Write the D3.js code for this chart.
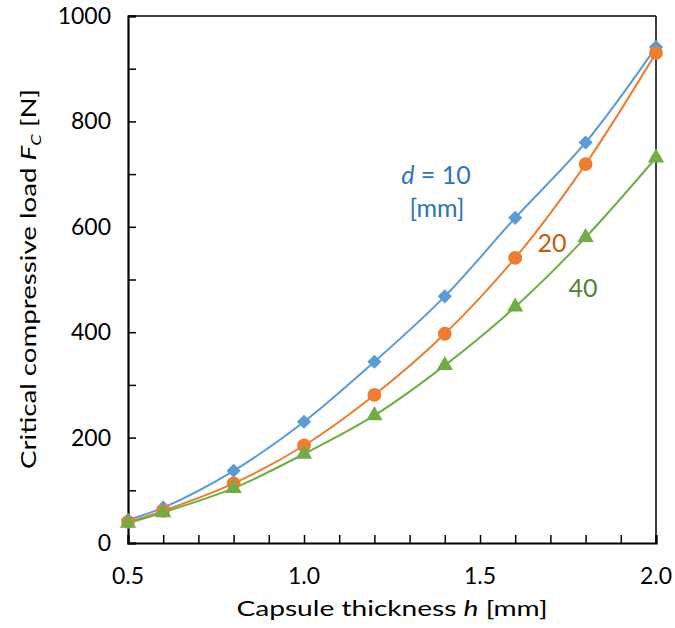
<!DOCTYPE html>
<html><head><meta charset="utf-8">
<script src="https://cdn.jsdelivr.net/npm/d3@7"></script>
<style>body{margin:0;background:#fff}svg{display:block}text{font-family:Lato,"Open Sans",sans-serif}</style>
</head><body><svg id="c" width="675" height="628"></svg>
<script>
const thickness = [0.5, 0.6, 0.8, 1.0, 1.2, 1.4, 1.6, 1.8, 2.0];
const loadD10 = [44, 67, 137, 230, 344, 468, 617, 760, 941];
const loadD20 = [40, 61, 113, 185, 281, 397, 541, 719, 930];
const loadD40 = [38, 58, 104, 169, 242, 337, 448, 580, 731];
const xTickLabels = [0.5, 1.0, 1.5, 2.0];
const yTickLabels = [0, 200, 400, 600, 800, 1000];

const svg = d3.select("#c");
const L = 128, R = 656, T = 16, B = 543;
const x = d3.scaleLinear().domain([0.5, 2.0]).range([L, R]);
const y = d3.scaleLinear().domain([0, 1000]).range([B, T]);

// frame
svg.append("line").attr("x1", L).attr("x2", R).attr("y1", T).attr("y2", T).attr("stroke", "#000").attr("stroke-width", 1.5);
svg.append("line").attr("x1", R).attr("x2", R).attr("y1", T).attr("y2", B).attr("stroke", "#000").attr("stroke-width", 1.5);

// axes with inward ticks
const xAxis = d3.axisBottom(x).tickValues(d3.range(0.5, 2.0001, 0.1)).tickSize(-8).tickFormat("");
const yAxis = d3.axisLeft(y).tickValues(d3.range(0, 1001, 100)).tickSize(-8).tickFormat("");
const gx = svg.append("g").attr("transform", `translate(0,${B})`).call(xAxis);
const gy = svg.append("g").attr("transform", `translate(${L},0)`).call(yAxis);
[gx, gy].forEach(g => {
  g.select(".domain").attr("stroke", "#000").attr("stroke-width", 2.2);
  g.selectAll(".tick line").attr("stroke", "#000").attr("stroke-width", 1.5);
});

// tick labels
svg.append("g").selectAll("text").data(xTickLabels).join("text")
  .attr("x", d => x(d)).attr("y", 584).attr("text-anchor", "middle")
  .attr("font-size", 23).attr("fill", "#000").text(d => d.toFixed(1));
svg.append("g").selectAll("text").data(yTickLabels).join("text")
  .attr("x", 111).attr("y", d => y(d) + 8).attr("text-anchor", "end")
  .attr("font-size", 23).attr("fill", "#000").text(d => d);

// axis titles
const xt = svg.append("text").attr("x", 392).attr("y", 616).attr("text-anchor", "middle")
  .attr("font-size", 21).attr("fill", "#000")
  .attr("textLength", 311).attr("lengthAdjust", "spacingAndGlyphs");
xt.append("tspan").text("Capsule thickness ");
xt.append("tspan").attr("font-style", "italic").text("h");
xt.append("tspan").text(" [mm]");

const yt = svg.append("text").attr("transform", "translate(36,279) rotate(-90)").attr("text-anchor", "middle")
  .attr("font-size", 21).attr("fill", "#000")
  .attr("textLength", 380).attr("lengthAdjust", "spacingAndGlyphs");
yt.append("tspan").text("Critical compressive load ");
yt.append("tspan").attr("font-style", "italic").text("F");
yt.append("tspan").attr("font-style", "italic").attr("font-size", 14).attr("dy", 5).text("C");
yt.append("tspan").attr("dy", -5).text(" [N]");

// series
const series = [
  {vals: loadD10, color: "#5B9BD5", shape: d3.symbolSquare, size: 100, rot: 45},
  {vals: loadD20, color: "#ED7D31", shape: d3.symbolCircle, size: 150, rot: 0},
  {vals: loadD40, color: "#70AD47", shape: d3.symbolTriangle, size: 115, rot: 0}
];
const line = d3.line().x((d, i) => x(thickness[i])).y(d => y(d)).curve(d3.curveCatmullRom.alpha(0.5));
series.forEach(s => {
  svg.append("path").attr("d", line(s.vals)).attr("fill", "none").attr("stroke", s.color).attr("stroke-width", 2);
});
series.forEach(s => {
  svg.append("g").selectAll("path").data(s.vals).join("path")
    .attr("transform", (d, i) => `translate(${x(thickness[i])},${y(d)}) rotate(${s.rot})`)
    .attr("d", d3.symbol().type(s.shape).size(s.size)).attr("fill", s.color);
});

// annotations
const a1 = svg.append("text").attr("x", 436).attr("y", 184).attr("text-anchor", "middle").attr("font-size", 25).attr("fill", "#2E75B6");
a1.append("tspan").attr("font-style", "italic").text("d");
a1.append("tspan").text(" = 10");
svg.append("text").attr("x", 437).attr("y", 217).attr("text-anchor", "middle").attr("font-size", 25).attr("fill", "#2E75B6").text("[mm]");
svg.append("text").attr("x", 552).attr("y", 252).attr("text-anchor", "middle").attr("font-size", 25).attr("fill", "#C55A11").text("20");
svg.append("text").attr("x", 583).attr("y", 297).attr("text-anchor", "middle").attr("font-size", 25).attr("fill", "#548235").text("40");
</script></body></html>
